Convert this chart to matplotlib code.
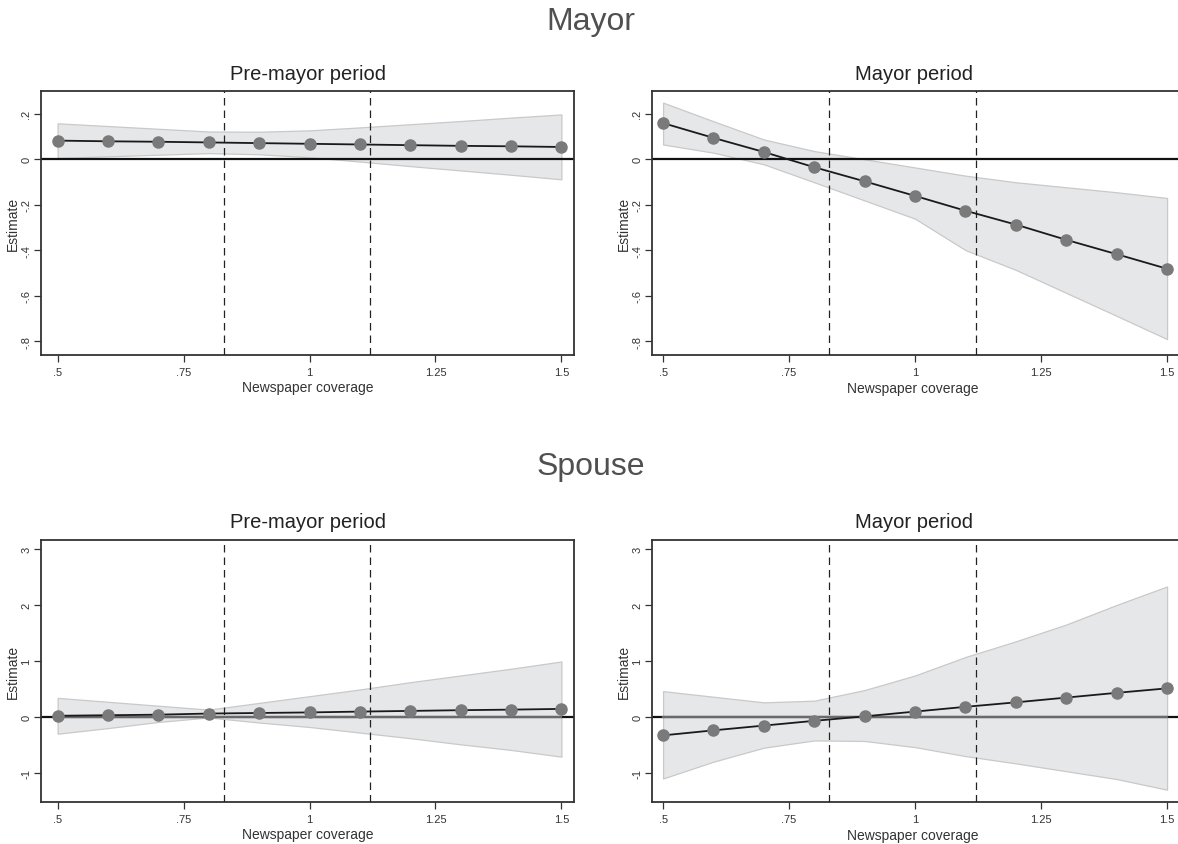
import matplotlib
matplotlib.use("Agg")
import matplotlib.pyplot as plt
import numpy as np

plt.rcParams['font.family'] = ['Liberation Sans', 'DejaVu Sans']

# coverage grid and the two reference cut-offs
coverage = [0.5, 0.6, 0.7, 0.8, 0.9, 1.0, 1.1, 1.2, 1.3, 1.4, 1.5]
cutoffs = [0.83, 1.12]
xticks = [0.5, 0.75, 1.0, 1.25, 1.5]
xticklabels = ['.5', '.75', '1', '1.25', '1.5']

# Mayor, pre-mayor period
mayor_pre_est = [0.082, 0.079, 0.077, 0.074, 0.071, 0.068, 0.065, 0.062, 0.059, 0.057, 0.054]
mayor_pre_hi = [0.158, 0.146, 0.134, 0.122, 0.121, 0.127, 0.140, 0.154, 0.168, 0.183, 0.197]
mayor_pre_lo = [0.006, 0.013, 0.020, 0.027, 0.022, 0.009, -0.010, -0.030, -0.049, -0.068, -0.088]

# Mayor, mayor period
mayor_in_est = [0.159, 0.094, 0.032, -0.035, -0.097, -0.161, -0.226, -0.287, -0.354, -0.417, -0.481]
mayor_in_hi = [0.249, 0.167, 0.087, 0.036, 0.0, -0.036, -0.072, -0.101, -0.123, -0.145, -0.170]
mayor_in_lo = [0.065, 0.029, -0.022, -0.101, -0.181, -0.261, -0.399, -0.486, -0.587, -0.688, -0.790]

# Spouse, pre-mayor period
spouse_pre_est = [0.02, 0.03, 0.04, 0.06, 0.07, 0.08, 0.095, 0.107, 0.12, 0.13, 0.143]
spouse_pre_hi = [0.34, 0.27, 0.20, 0.13, 0.25, 0.37, 0.49, 0.62, 0.74, 0.86, 0.99]
spouse_pre_lo = [-0.30, -0.20, -0.09, -0.01, -0.10, -0.18, -0.28, -0.38, -0.49, -0.59, -0.71]

# Spouse, mayor period
spouse_in_est = [-0.33, -0.24, -0.155, -0.07, 0.01, 0.095, 0.18, 0.26, 0.345, 0.43, 0.51]
spouse_in_hi = [0.46, 0.36, 0.26, 0.29, 0.48, 0.74, 1.07, 1.35, 1.65, 2.00, 2.33]
spouse_in_lo = [-1.10, -0.80, -0.55, -0.42, -0.43, -0.54, -0.70, -0.83, -0.97, -1.11, -1.30]

mayor_yticks = [0.2, 0, -0.2, -0.4, -0.6, -0.8]
mayor_yticklabels = ['.2', '0', '-.2', '-.4', '-.6', '-.8']
spouse_yticks = [3, 2, 1, 0, -1]
spouse_yticklabels = ['3', '2', '1', '0', '-1']

W, H = 1178, 845
fig = plt.figure(figsize=(W / 100, H / 100), dpi=100)


def box(x0, x1, ytop, ybot):
    return [x0 / W, 1 - ybot / H, (x1 - x0) / W, (ybot - ytop) / H]


def panel(rect, xlim, title, est, lo, hi, ylim, yticks, yticklabels, gray_zero):
    ax = fig.add_axes(rect)
    ax.fill_between(coverage, lo, hi, facecolor='#e6e7e9', edgecolor='#c9c9c9',
                    linewidth=0.9, zorder=1)
    ax.axhline(0, color='#111111', linewidth=1.6, zorder=2)
    if gray_zero:
        ax.plot([coverage[0], coverage[-1]], [0, 0], color='#6a6a6a', linewidth=1.6, zorder=2.5)
    for c in cutoffs:
        ax.axvline(c, color='#222222', linewidth=0.9, linestyle=(0, (6, 4)), zorder=3)
    ax.plot(coverage, est, color='#1a1a1a', linewidth=1.3, zorder=4)
    ax.plot(coverage, est, linestyle='none', marker='o', markersize=8,
            markerfacecolor='#7a7a7a', markeredgecolor='#7a7a7a', zorder=5)
    ax.set_xlim(*xlim)
    ax.set_ylim(*ylim)
    ax.set_xticks(xticks)
    ax.set_xticklabels(xticklabels, fontsize=8, color='#333333')
    ax.set_yticks(yticks)
    ax.set_yticklabels(yticklabels, fontsize=8, color='#333333', rotation=90, va='center')
    ax.tick_params(direction='out', length=5, width=0.9, color='#333333')
    ax.tick_params(axis='x', pad=4)
    ax.tick_params(axis='y', pad=2)
    for s in ax.spines.values():
        s.set_color('#333333')
        s.set_linewidth(1.3)
    ax.set_xlabel('Newspaper coverage', fontsize=10, color='#333333', labelpad=2)
    ax.set_ylabel('Estimate', fontsize=10, color='#333333', labelpad=1)
    ax.set_title(title, fontsize=14.5, color='#222222', pad=9)
    return ax


# right-hand panels run past the page edge, so their right spine is cut off
left_x = (0.467, 1.525)
right_x = (0.478, 1.5455)
panel(box(41, 574, 92, 356), left_x, 'Pre-mayor period', mayor_pre_est, mayor_pre_lo, mayor_pre_hi,
      (-0.86, 0.30), mayor_yticks, mayor_yticklabels, False)
ax_tr = panel(box(652, 1190, 92, 356), right_x, 'Mayor period', mayor_in_est, mayor_in_lo, mayor_in_hi,
              (-0.86, 0.30), mayor_yticks, mayor_yticklabels, False)
panel(box(41, 574, 541, 803), left_x, 'Pre-mayor period', spouse_pre_est, spouse_pre_lo, spouse_pre_hi,
      (-1.52, 3.16), spouse_yticks, spouse_yticklabels, True)
ax_br = panel(box(652, 1190, 541, 803), right_x, 'Mayor period', spouse_in_est, spouse_in_lo, spouse_in_hi,
              (-1.52, 3.16), spouse_yticks, spouse_yticklabels, True)
# keep titles and x labels centred on the visible part of the frame
for a in (ax_tr, ax_br):
    a.title.set_position((0.5 - 6.5 / 538, 1.0))
    a.xaxis.set_label_coords(0.5 - 8 / 538, -0.1)

fig.text(591 / W, 1 - 22 / H, 'Mayor', ha='center', va='center', fontsize=23, color='#505050')
fig.text(591 / W, 1 - 467 / H, 'Spouse', ha='center', va='center', fontsize=23, color='#505050')

fig.savefig('out.png', dpi=100)
